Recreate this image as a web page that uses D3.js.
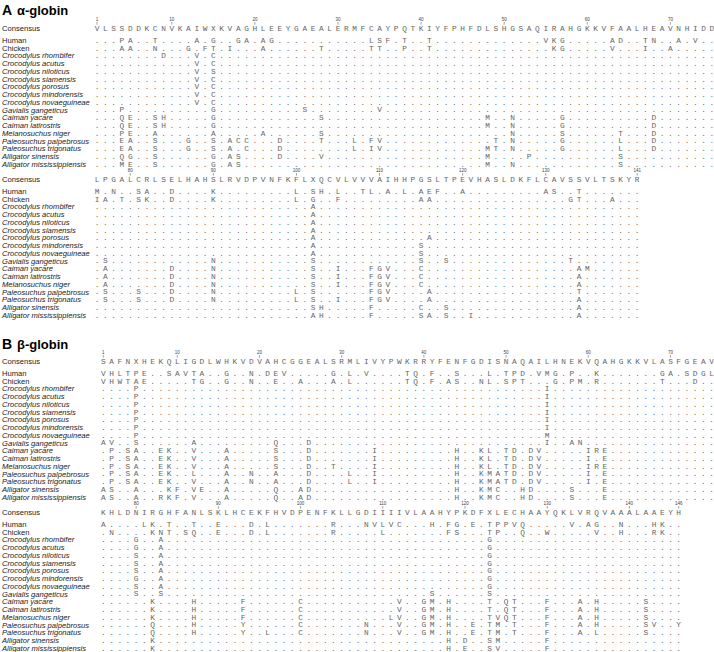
<!DOCTYPE html>
<html>
<head>
<meta charset="utf-8">
<script src="https://cdn.jsdelivr.net/npm/d3@7"></script>
<style>
  body { margin: 0; background: #fff; }
</style>
</head>
<body>
<div class="canvas"></div>
<script>
// row names, same for both panels
const species = [
  "Human", "Chicken",
  "Crocodylus rhombifer", "Crocodylus acutus", "Crocodylus niloticus",
  "Crocodylus siamensis", "Crocodylus porosus", "Crocodylus mindorensis",
  "Crocodylus novaeguineae", "Gavialis gangeticus", "Caiman yacare",
  "Caiman latirostris", "Melanosuchus niger", "Paleosuchus palpebrosus",
  "Paleosuchus trigonatus", "Alligator sinensis", "Alligator mississippiensis"
];

// alpha-globin
const alphaConsensus = [
  "VLSSDDKCNVKAIWXKVAGHLEEYGAEALERMFCAYPQTKIYFPHFDLSHGSAQIRAHGKKVFAALHEAVNHIDD",
  "LPGALCRLSELHAHSLRVDPVNFKFLXQCVLVVVAIHHPGSLTPEVHASLDKFLCAVSSVLTSKYR"
];
const alphaStarts = [1, 76];
const alphaTicks = [[1, 10, 20, 30, 40, 50, 60, 70], [80, 90, 100, 110, 120, 130, 141]];
// substitutions vs consensus: position + residue, everything else is "."
const alphaSubs = [
  "4P 5A 8T 13A 15G 18G 19A 21A 22G 34L 35S 36F 38T 41T 55V 56K 57G 63A 64D 67T 68N 71A 73V 76M 78N 81S 82A 85D 90K 100L 102S 103H 105L 108T 109L 111A 113L 115A 116E 117F 120A 130A 131S 134T",
  "4A 5A 8N 12G 14F 15T 17I 21A 28T 34T 35T 38P 41T 56K 57G 63V 67I 70A 76I 77A 79T 81S 82K 85D 90K 100L 102G 105F 115A 116A 133G 134T 138A",
  "9D 13V 15C 102A",
  "13V 15C 102A",
  "13V 15S 102A",
  "13V 15C 102A",
  "13V 15C 102A 116A",
  "13V 15C 102A 115S",
  "13V 15C 102A 115S",
  "4P 15G 26S 35V 77S 90N 102S 115S 118S 133T",
  "4Q 5E 8S 9H 15G 28S 48M 51N 57G 68D 77A 85D 90N 102S 105I 109F 110G 111V 115C 134A 135M",
  "4Q 5E 8S 9H 15G 48M 51N 57G 68D 77A 85D 90N 102S 105I 109F 110G 111V 115C 134A",
  "4P 5E 8A 15A 21A 28S 51N 57S 64T 68D 77A 85D 90N 102S 105I 109F 110G 111V 115C 134A",
  "4E 5A 8S 12G 15S 17A 18C 19C 23D 28T 32L 34F 35V 49T 51N 57G 64L 68D 77S 81S 85D 90N 100L 102S 109F 110G 111V 116A 134T",
  "4E 5A 8S 12G 15S 17A 19C 23D 32L 34I 35V 48M 49T 51N 57G 64L 68D 77S 81S 85D 90N 100L 102S 105I 109F 110G 111V 116A 134A",
  "4Q 5G 8S 15G 17A 18S 23D 28V 48M 53P 64S 102S 103H 109F 115C 118S 134A",
  "4M 5E 8S 15G 17A 18S 48M 51N 64S 102A 103H 109F 115S 116A 118S 121I 134A"
];

// beta-globin
const betaConsensus = [
  "SAFNXHEKQLIGDLWHKVDVAHCGGEALSRMLIVYPWKRRYFENFGDISNAQAILHNEKVQAHGKKVLASFGEAV",
  "KHLDNIRGHFANLSKLHCEKFHVDPENFKLLGDIIIIVLAAHYPKDFXLECHAAYQKLVRQVAAALAAEYH"
];
const betaStarts = [1, 76];
const betaTicks = [[1, 10, 20, 30, 40, 50, 60, 70], [80, 90, 100, 110, 120, 130, 140, 146]];
const betaSubs = [
  "1V 2H 3L 4T 5P 6E 9S 10A 11V 12T 13A 16G 19N 21D 22E 23V 29G 31L 33V 38T 39Q 41F 44S 48L 50T 51P 52D 54V 55M 56G 58P 61K 69G 70A 72S 73D 74G 75L 76A 81L 82K 84T 87T 90E 94D 96L 104R 108N 109V 110L 111V 112C 116H 118F 119G 121E 123T 124P 125P 126V 127Q 133V 135A 136G 139N 143H 144K",
  "1V 2H 3W 4T 5A 6E 12T 13G 16G 19N 22E 25A 29A 31L 38T 39Q 41F 43A 44S 47N 48L 50S 51P 52T 56G 58P 59M 61R 69T 73D 77N 82K 83N 84T 86S 87Q 90E 94D 96L 104R 110L 118F 119S 123T 124P 127Q 130W 136V 139H 143R 144K",
  "5P 55I 80G 83A 123G",
  "5P 55I 80G 83A 123G",
  "5P 55I 80S 83A 123G",
  "5P 55I 80S 83A 123G",
  "5P 55I 80S 83A 123G",
  "5P 55I 80G 83A 123G",
  "5P 55M 80S 83A 123G",
  "1A 2V 5S 12A 22Q 26D 55I 58A 59N 80S 83S 116S 123S",
  "2P 4S 5A 8E 9K 12V 16A 22S 26D 34I 44H 47K 48L 50T 51D 53D 54V 60I 61R 62E 82K 87H 93F 100C 112V 115G 116M 118H 123T 125Q 126T 130F 134A 136H 142S",
  "2P 4S 5A 8E 9K 12V 16A 22S 26D 34I 44H 47K 48L 50T 51D 53D 54V 60I 62E 82K 87H 93F 100C 112V 115G 116M 118H 123T 125Q 126T 130F 134A 136H 142S",
  "2P 4S 5A 8E 9K 12V 16A 22S 26D 29T 34I 44H 47K 48L 50T 51D 53D 54V 60I 61R 62E 82K 87H 93F 100C 111L 112V 115G 116M 118H 123T 124V 125Q 126T 130F 134A 136H 142S",
  "2P 4S 5A 8E 9K 12L 16A 19N 22A 26D 31L 34I 44H 47K 48M 49A 50T 51D 53D 54V 60I 62E 82Q 87H 93Y 100C 108N 112V 115G 116M 118H 121E 123T 124M 126T 130F 134A 136H 142S 143V 146Y",
  "2P 4S 5A 8E 9K 12V 16A 19N 22A 26D 31L 34I 44H 47K 48M 49A 50T 51D 53D 54V 60I 62E 82Q 87H 93Y 96L 100C 108N 112V 115G 116M 118H 121E 123T 124M 126T 130F 134A 136L 142S",
  "1A 2S 5A 9K 10F 12V 13E 16A 22Q 25A 26D 44H 47K 48M 49C 52H 53D 58S 62E 82K 118H 120D 123S 124M 130F",
  "1A 2S 5A 8R 9K 10F 12V 16A 22Q 25A 26D 44H 47K 48M 49C 52H 53D 58S 62E 82K 118H 120E 123S 124V 130F"
];

const svg = d3.select(".canvas")
  .append("svg")
  .attr("width", 714)
  .attr("height", 652)
  .style("font-family", "'Liberation Sans', Arial, sans-serif");

svg.append("rect").attr("width", 714).attr("height", 652).attr("fill", "#fff");

const seqFont = "'Liberation Mono', 'Courier New', monospace";
const seqColor = "#666";
const seqSize = 7.8;
const labelSize = 7.6;

// turn "4P 5A" into a map pos -> residue
function parseSubs(s) {
  const m = new Map();
  s.split(" ").forEach(t => m.set(+t.slice(0, -1), t.slice(-1)));
  return m;
}

function drawPanel(cfg) {
  const g = svg.append("g");

  g.append("text")
    .attr("x", 2).attr("y", cfg.titleY)
    .attr("font-size", 14).attr("font-weight", "bold")
    .text(cfg.letter);
  g.append("text")
    .attr("x", 17).attr("y", cfg.titleY)
    .attr("font-size", 13).attr("font-weight", "bold")
    .text(cfg.title);

  const subMaps = cfg.subs.map(parseSubs);

  cfg.consensus.forEach((cons, b) => {
    const start = cfg.starts[b];
    const cy = cfg.consY[b];
    const positions = d3.range(start, start + cons.length);

    const x = d3.scaleLinear()
      .domain([start, start + 74])
      .range([cfg.x0, cfg.x0 + 74 * cfg.step]);
    const y = d3.scaleLinear()
      .domain([0, species.length - 1])
      .range([cy + 12.3, cy + 136]);

    // row labels
    g.append("text")
      .attr("x", 2).attr("y", cy + 2.7)
      .attr("font-size", labelSize).attr("fill", "#222")
      .text("Consensus");
    g.selectAll(null)
      .data(species)
      .join("text")
      .attr("x", 2)
      .attr("y", (d, i) => y(i) + 2.7)
      .attr("font-size", labelSize)
      .attr("fill", "#222")
      .attr("font-style", (d, i) => i < 2 ? "normal" : "italic")
      .text(d => d);

    // position numbers with little ticks
    const ticks = cfg.ticks[b];
    g.selectAll(null)
      .data(ticks)
      .join("text")
      .attr("x", d => x(d))
      .attr("y", cy - 6.8)
      .attr("text-anchor", "middle")
      .attr("font-size", 4.5)
      .attr("fill", "#444")
      .text(d => d);
    g.selectAll(null)
      .data(ticks)
      .join("line")
      .attr("x1", d => x(d)).attr("x2", d => x(d))
      .attr("y1", cy - 6).attr("y2", cy - 3.3)
      .attr("stroke", "#666")
      .attr("stroke-width", 0.6);

    // consensus letters
    g.selectAll(null)
      .data(positions)
      .join("text")
      .attr("x", d => x(d))
      .attr("y", cy + 2.6)
      .attr("text-anchor", "middle")
      .attr("font-family", seqFont)
      .attr("font-size", seqSize)
      .attr("fill", seqColor)
      .text(d => cons[d - start]);

    // each species row
    subMaps.forEach((m, i) => {
      g.selectAll(null)
        .data(positions)
        .join("text")
        .attr("x", d => x(d))
        .attr("y", y(i) + 2.6)
        .attr("text-anchor", "middle")
        .attr("font-family", seqFont)
        .attr("font-size", seqSize)
        .attr("fill", seqColor)
        .text(d => m.get(d) || ".");
    });
  });
}

drawPanel({
  letter: "A", title: "α-globin", titleY: 15,
  consY: [28, 179], x0: 97, step: 8.31,
  consensus: alphaConsensus, starts: alphaStarts, ticks: alphaTicks, subs: alphaSubs
});

drawPanel({
  letter: "B", title: "β-globin", titleY: 348.5,
  consY: [361, 512], x0: 103.3, step: 8.22,
  consensus: betaConsensus, starts: betaStarts, ticks: betaTicks, subs: betaSubs
});
</script>
</body>
</html>
